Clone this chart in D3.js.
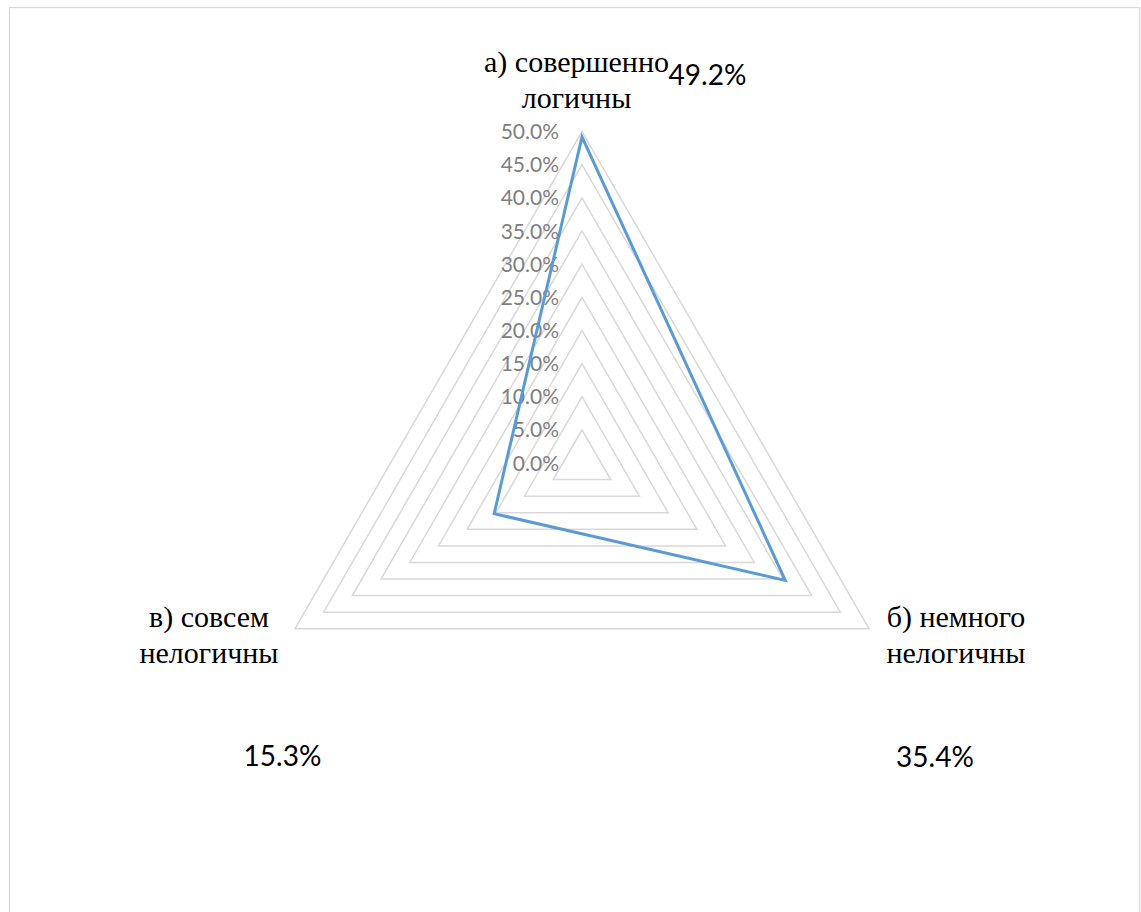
<!DOCTYPE html>
<html>
<head>
<meta charset="utf-8">
<script src="https://cdn.jsdelivr.net/npm/d3@7/dist/d3.min.js"></script>
<style>
  html, body { margin: 0; padding: 0; background: #fff; }
  svg { display: block; }
  .cat { font-family: "Liberation Serif", "DejaVu Serif", "Times New Roman", serif; }
  .num { font-family: Lato, "Open Sans", sans-serif; }
</style>
</head>
<body>
<svg id="chart" width="1141" height="912"></svg>
<script>
// Survey answers and their shares (percent)
const categories = [["а) совершенно", "логичны"], ["б) немного", "нелогичны"], ["в) совсем", "нелогичны"]];
const values = [49.2, 35.4, 15.3];
const valueLabels = ["49.2%", "35.4%", "15.3%"];
const ticks = [0, 5, 10, 15, 20, 25, 30, 35, 40, 45, 50];
const tickLabels = ["0.0%", "5.0%", "10.0%", "15.0%", "20.0%", "25.0%", "30.0%", "35.0%", "40.0%", "45.0%", "50.0%"];

const svg = d3.select("#chart");
const cx = 582, cy = 463, R = 331.5;

// chart area frame
svg.append("rect")
  .attr("x", 9.5).attr("y", 7.5)
  .attr("width", 1130).attr("height", 920)
  .attr("fill", "#fff")
  .attr("stroke", "#d9d9d9").attr("stroke-width", 1.3);

const r = d3.scaleLinear().domain([0, 50]).range([0, R]);
const angle = d3.scaleBand().domain(d3.range(categories.length)).range([0, 2 * Math.PI]);
const pt = (i, v) => {
  const a = angle(i);
  return [cx + r(v) * Math.sin(a), cy - r(v) * Math.cos(a)];
};

// concentric grid triangles
const grid = svg.append("g");
ticks.filter(t => t > 0).forEach(t => {
  grid.append("path")
    .attr("d", d3.line()(d3.range(categories.length).map(i => pt(i, t))) + "Z")
    .attr("fill", "none")
    .attr("stroke", "#d9d9d9")
    .attr("stroke-width", 1.5);
});

// radial axis tick labels
svg.append("g").attr("class", "num").selectAll("text")
  .data(ticks)
  .join("text")
  .attr("x", cx - 23)
  .attr("y", d => cy - r(d))
  .attr("dy", "0.36em")
  .attr("text-anchor", "end")
  .attr("font-size", 21)
  .attr("fill", "#808080")
  .text((d, i) => tickLabels[i]);

// data series
svg.append("path")
  .attr("d", d3.line()(values.map((v, i) => pt(i, v))) + "Z")
  .attr("fill", "none")
  .attr("stroke", "#5b9bd5")
  .attr("stroke-width", 3)
  .attr("stroke-linejoin", "miter");

// category labels
const catPos = [[576.5, 72], [956, 627], [209, 627]];
const cat = svg.append("g")
  .attr("class", "cat")
  .attr("font-size", 30)
  .attr("fill", "#000")
  .attr("text-anchor", "middle");
categories.forEach((lines, i) => {
  const t = cat.append("text").attr("x", catPos[i][0]).attr("y", catPos[i][1]);
  lines.forEach((ln, j) => {
    t.append("tspan").attr("x", catPos[i][0]).attr("dy", j === 0 ? 0 : 36).text(ln);
  });
});

// value labels
const valPos = [[707.5, 85], [935, 767], [282.5, 766]];
svg.append("g")
  .attr("class", "num")
  .attr("font-size", 28)
  .attr("fill", "#000")
  .attr("text-anchor", "middle")
  .selectAll("text")
  .data(valueLabels)
  .join("text")
  .attr("x", (d, i) => valPos[i][0])
  .attr("y", (d, i) => valPos[i][1])
  .text(d => d);
</script>
</body>
</html>
